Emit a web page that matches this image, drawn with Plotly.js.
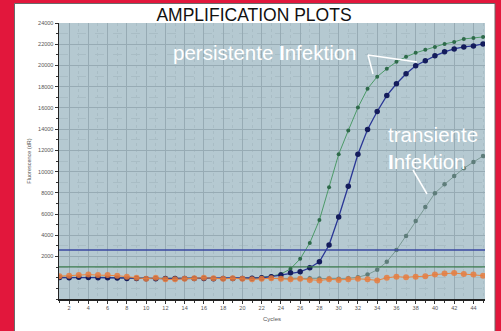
<!DOCTYPE html>
<html>
<head>
<meta charset="utf-8">
<script src="https://cdn.plot.ly/plotly-3.0.1.min.js"></script>
<style>html,body{margin:0;padding:0;background:#fff;}#chart{width:501px;height:331px;}</style>
</head>
<body>
<div id="chart"></div>
<script>
// ---- data ----
const cycles = Array.from({length: 45}, (_, i) => i + 1);
const persistentA = [ // green curve
  60, 40, 80, 20, 60, 30, 0, -40, -60, -50, -80, -60, -40, -50, -30, -40, -60, -50, -60, -40, -20, 50, 150, 350,
  840, 1780, 3280, 5440, 8530, 11630, 13870, 16030, 17810, 18940, 19690, 20340, 20810, 21190, 21470, 21750,
  22030, 22220, 22500, 22590, 22690];
const persistentB = [ // dark blue curve
  20, 0, 40, 30, 10, 0, -20, -60, -80, -90, -100, -80, -70, -60, -80, -70, -90, -80, -60, -70, -50, 0, 100, 250,
  470, 560, 940, 1500, 3090, 5720, 8625, 11630, 13970, 15660, 17160, 18280, 19220, 19970, 20440, 20910,
  21280, 21560, 21750, 21840, 22030];
const transient = [ // grey-green curve
  0, 20, 60, 40, 20, 10, -20, -40, -60, -80, -60, -70, -90, -60, -50, -80, -70, -60, -90, -70, -80, -60, -50, -40,
  -60, -80, -50, -60, -80, -100, -50, 50, 300, 750, 1500, 2620, 3940, 5340, 6660, 7970,
  8810, 9590, 10310, 10900, 11470];
const negative = [ // orange markers
  150, 200, 250, 300, 250, 250, 200, 100, 0, -100, 0, -150, -150, -100, -50, 0, -50, -100, -50, -100, -150, -100,
  -50, -100, -150, -100, -200, -250, -150, -200, -150, -100, -150, -250, 0, 100, 50, 100, 150, 300,
  400, 450, 350, 300, 200];
const thresholds = [2620, 1030];
const yTickVals = [2000, 4000, 6000, 8000, 10000, 12000, 14000, 16000, 18000, 20000, 22000, 24000];
const yTickText = yTickVals.map(String);
const xTickVals = [2,4,6,8,10,12,14,16,18,20,22,24,26,28,30,32,34,36,38,40,42,44];
const xTickText = xTickVals.map(String);

// ---- geometry helpers (pixel -> paper) ----
const L = 59, R = 485, T = 23, B = 299, W = 501, H = 331;
const px = p => (p - L) / (R - L);
const py = p => (B - p) / (B - T);

const FONT = 'Liberation Sans, Arial, sans-serif';

const traces = [
  {x: cycles, y: transient, mode: 'lines+markers', line: {color: '#7b9a95', width: 1},
   marker: {color: '#5e7d7a', size: 4.5}},
  {x: cycles, y: persistentA, mode: 'lines+markers', line: {color: '#4c9a68', width: 1},
   marker: {color: '#2e6a4a', size: 4}},
  {x: cycles, y: persistentB, mode: 'lines+markers', line: {color: '#2a3796', width: 1.3},
   marker: {color: '#141c5c', size: 5.5}},
  {x: cycles, y: negative, mode: 'lines+markers', line: {color: '#e8843f', width: 1},
   marker: {color: '#e67c40', size: 6, opacity: 0.85}}
];

const shapes = [
  // white inner panel with thin grey frame
  {type: 'rect', xref: 'paper', yref: 'paper', layer: 'below',
   x0: px(14.5), x1: px(495), y0: py(340), y1: py(3.5),
   fillcolor: '#ffffff', line: {color: '#6a6a6a', width: 1}},
  // plot background
  {type: 'rect', xref: 'paper', yref: 'paper', layer: 'below',
   x0: 0, x1: 1, y0: 0, y1: 1, fillcolor: '#b5c9d1', line: {width: 0}},
  // threshold lines
  {type: 'line', xref: 'paper', yref: 'y', x0: 0, x1: 1, y0: thresholds[0], y1: thresholds[0],
   line: {color: '#3a47a0', width: 1.5}},
  {type: 'line', xref: 'paper', yref: 'y', x0: 0, x1: 1, y0: thresholds[1], y1: thresholds[1],
   line: {color: '#3b7a4c', width: 1.2}},
  // leader lines
  {type: 'line', xref: 'paper', yref: 'paper', x0: px(368), y0: py(55), x1: px(373), y1: py(74),
   line: {color: '#ffffff', width: 1.5}},
  {type: 'line', xref: 'paper', yref: 'paper', x0: px(368), y0: py(55), x1: px(417), y1: py(62),
   line: {color: '#ffffff', width: 1.5}},
  {type: 'line', xref: 'paper', yref: 'paper', x0: px(413), y0: py(170), x1: px(427), y1: py(194),
   line: {color: '#ffffff', width: 1.5}}
];

const annotations = [
  {text: 'persistente <b>I</b>nfektion', xref: 'paper', yref: 'paper', x: px(171), y: py(52),
   xanchor: 'left', yanchor: 'middle', showarrow: false,
   font: {family: FONT, size: 20.5, color: '#ffffff'}},
  {text: 'transiente<br><b>I</b>nfektion', xref: 'paper', yref: 'paper', x: px(386), y: py(148),
   xanchor: 'left', yanchor: 'middle', align: 'left', showarrow: false,
   font: {family: FONT, size: 20.5, color: '#ffffff'}}
];

const layout = {
  width: W, height: H,
  margin: {l: L, r: W - R, t: T, b: H - B, pad: 0},
  paper_bgcolor: '#e2173c',
  plot_bgcolor: 'rgba(0,0,0,0)',
  showlegend: false,
  title: {text: 'AMPLIFICATION PLOTS', x: 254 / W, xanchor: 'center', xref: 'container',
          y: 1 - 14.5 / H, yanchor: 'middle', yref: 'container',
          font: {family: FONT, size: 17.5, color: '#111111'}},
  xaxis: {
    range: [0.95, 45.2], tickmode: 'array', tickvals: xTickVals, ticktext: xTickText,
    showgrid: true, gridcolor: '#97abb4', gridwidth: 1,
    ticks: 'outside', ticklen: 3, tickcolor: '#333', tickwidth: 1,
    minor: {dtick: 1, tick0: 1, ticks: 'outside', ticklen: 2, tickcolor: '#333', showgrid: true,
            gridcolor: '#a9bdc5', griddash: 'dot', gridwidth: 1},
    showline: true, linecolor: '#222', linewidth: 1.5, mirror: false,
    zeroline: false,
    tickfont: {family: FONT, size: 5.5, color: '#555'},
    title: {text: 'Cycles', font: {family: FONT, size: 6, color: '#555'}, standoff: 6}
  },
  yaxis: {
    range: [-2000, 24000], tickmode: 'array', tickvals: yTickVals, ticktext: yTickText,
    showgrid: true, gridcolor: '#97abb4', gridwidth: 1,
    ticks: 'outside', ticklen: 3, tickcolor: '#333', tickwidth: 1,
    minor: {dtick: 1000, tick0: 0, ticks: 'outside', ticklen: 2, tickcolor: '#333', showgrid: true,
            gridcolor: '#a9bdc5', griddash: 'dash', gridwidth: 1},
    showline: true, linecolor: '#222', linewidth: 1.5,
    zeroline: false,
    tickfont: {family: FONT, size: 5.5, color: '#555'},
    title: {text: 'Fluorescence (dR)', font: {family: FONT, size: 5.5, color: '#555'}, standoff: 6}
  },
  shapes: shapes,
  annotations: annotations
};

Plotly.newPlot('chart', traces, layout, {displayModeBar: false, staticPlot: true});
</script>
</body>
</html>
